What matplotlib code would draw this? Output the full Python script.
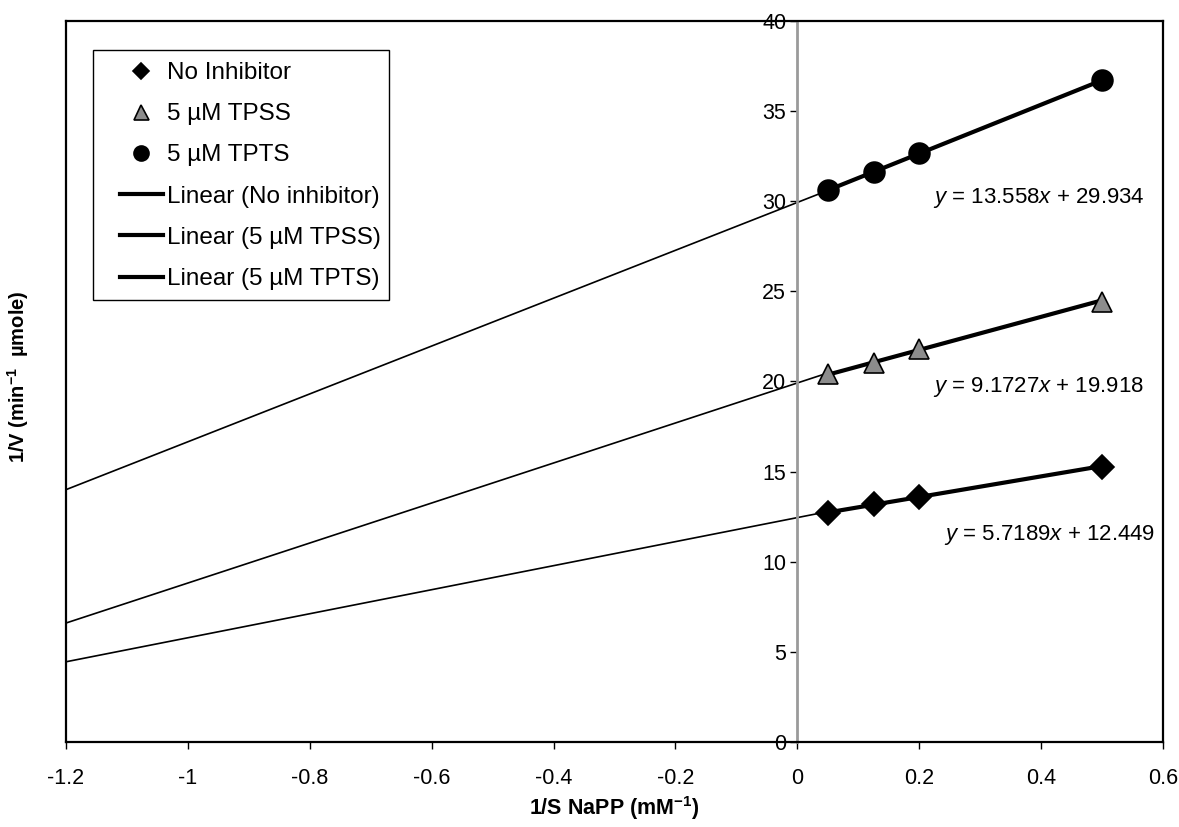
import numpy as np
import matplotlib
matplotlib.use('Agg')
import matplotlib.pyplot as plt
from matplotlib.patches import Rectangle

plt.rcParams['font.family'] = ['Liberation Sans', 'DejaVu Sans']
plt.rcParams['mathtext.fontset'] = 'custom'
plt.rcParams['mathtext.rm'] = 'Liberation Sans'
plt.rcParams['mathtext.it'] = 'Liberation Sans:italic'
plt.rcParams['mathtext.bf'] = 'Liberation Sans:bold'

# data
conc_inv = [0.05, 0.125, 0.2, 0.5]
no_inhib = [12.7, 13.2, 13.6, 15.25]
tpss = [20.4, 21.0, 21.8, 24.4]
tpts = [30.6, 31.6, 32.7, 36.7]

slopes = [5.7189, 9.1727, 13.558]
intercepts = [12.449, 19.918, 29.934]
# where the thin extrapolated lines meet x = -1.2 in the figure
extrap_left = [4.45, 6.6, 14.0]

names = ['No Inhibitor', '5 µM TPSS', '5 µM TPTS']
fit_names = ['Linear (No inhibitor)', 'Linear (5 µM TPSS)', 'Linear (5 µM TPTS)']
eq_labels = [r'$y$ = 5.7189$x$ + 12.449',
             r'$y$ = 9.1727$x$ + 19.918',
             r'$y$ = 13.558$x$ + 29.934']
eq_pos = [(0.241, 11.5), (0.222, 19.7), (0.222, 30.2)]

xmin, xmax = -1.2, 0.6
W, H = 1179, 827

fig = plt.figure(figsize=(W / 100, H / 100), dpi=100)
ax = fig.add_axes([66 / W, 1 - 742 / H, (1163 - 66) / W, (742 - 21) / H])

series = [no_inhib, tpss, tpts]
styles = [dict(marker='D', markersize=12, color='black', markerfacecolor='black'),
          dict(marker='^', markersize=15, color='black', markerfacecolor='#8c8c8c'),
          dict(marker='o', markersize=15, color='black', markerfacecolor='black')]

x_fit = np.array([conc_inv[0], conc_inv[-1]])
marker_handles = []
line_handles = []
for vals, st, name, fname, m, b, yl in zip(series, styles, names, fit_names,
                                            slopes, intercepts, extrap_left):
    # thin extrapolation to the left
    k = (b - yl) / (0 - xmin)
    ax.plot([xmin, conc_inv[0]], [yl, b + k * conc_inv[0]], color='black', lw=1.2, zorder=2)
    # thick trendline over the data range
    ln, = ax.plot(x_fit, m * x_fit + b, color='black', lw=3, zorder=3, label=fname)
    line_handles.append(ln)
    mk, = ax.plot(conc_inv, vals, linestyle='none', zorder=4, label=name,
                  markeredgewidth=1.2, **st)
    marker_handles.append(mk)

for txt, (tx, ty) in zip(eq_labels, eq_pos):
    ax.text(tx, ty, txt, fontsize=16, ha='left', va='center')

ax.set_xlim(xmin, xmax)
ax.set_ylim(0, 40)
ax.set_xticks(np.arange(-1.2, 0.61, 0.2))
ax.set_xticklabels(['-1.2', '-1', '-0.8', '-0.6', '-0.4', '-0.2', '0', '0.2', '0.4', '0.6'])
ax.set_yticks(range(0, 41, 5))

ax.spines['left'].set_position(('data', 0))
ax.spines['left'].set_color('#9a9a9a')
ax.spines['left'].set_linewidth(2)
for s in ['top', 'right', 'bottom']:
    ax.spines[s].set_linewidth(1.6)
ax.axvline(xmin, color='black', lw=1.6, clip_on=False, zorder=5)

ax.tick_params(axis='y', direction='out', length=5, width=1, color='black',
               labelsize=15.5, pad=3)
ax.tick_params(axis='x', direction='out', length=5, width=1, labelsize=15.5, pad=14)

fig.text(614 / W, 1 - 808 / H, '1/S NaPP (mM$^{\\mathbf{-1}}$)', fontsize=15.5,
         fontweight='bold', ha='center', va='center')
fig.text(18 / W, 1 - 377 / H, '1/V (min$^{\\mathbf{-1}}$  µmole)', fontsize=14.5,
         fontweight='bold', rotation=90, ha='center', va='center')

# legend without its own frame; the box is drawn separately to match the padding
leg = ax.legend(handles=marker_handles + line_handles, loc='upper left',
                bbox_to_anchor=(120 / W, 1 - 62 / H), bbox_transform=fig.transFigure,
                fontsize=17.5, frameon=False, borderaxespad=0, borderpad=0,
                handlelength=1.75, handletextpad=0.17,
                labelspacing=0.79, markerscale=0.72)
fig.add_artist(Rectangle((93 / W, 1 - 300 / H), (389 - 93) / W, (300 - 50) / H,
                         transform=fig.transFigure, fill=False, edgecolor='black',
                         lw=1, zorder=6))

fig.savefig('out.png', dpi=100)
